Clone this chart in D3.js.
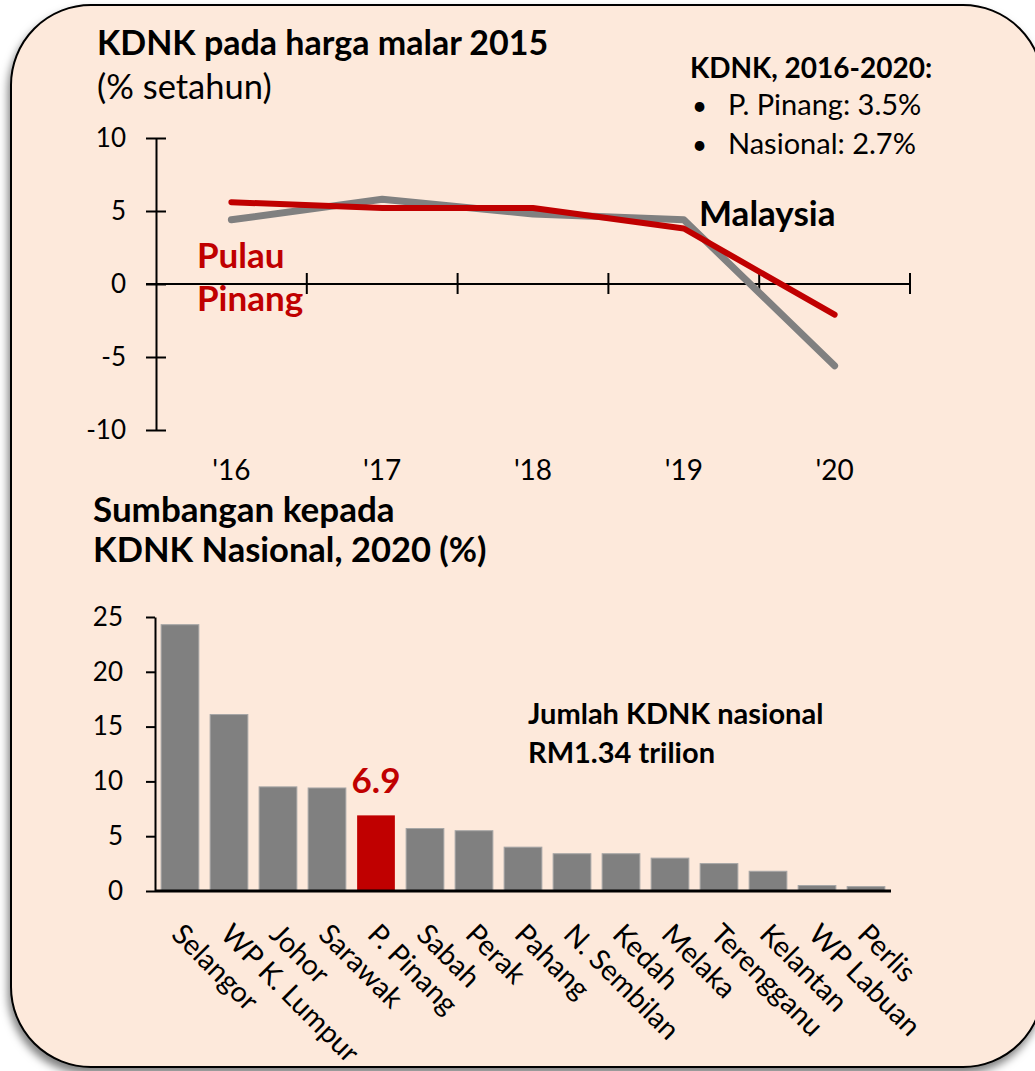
<!DOCTYPE html>
<meta charset="utf-8">
<style>
body { margin: 0; background: #fff; }
text { font-family: Lato, "Open Sans", sans-serif; fill: #000; }
.axis path, .axis line { stroke: #000; stroke-width: 2px; }
.axis text { font-size: 26px; fill: #000; }
</style>
<svg width="1035" height="1071"></svg>
<script src="https://d3js.org/d3.v7.min.js"></script>
<script>
// top chart: annual GDP growth
var years = ["'16", "'17", "'18", "'19", "'20"];
var penang = [5.6, 5.2, 5.2, 3.8, -2.1];
var malaysia = [4.4, 5.8, 4.8, 4.4, -5.6];
var growthTicks = [-10, -5, 0, 5, 10];

// bottom chart: share of national GDP 2020
var states = ["Selangor", "WP K. Lumpur", "Johor", "Sarawak", "P. Pinang", "Sabah", "Perak",
  "Pahang", "N. Sembilan", "Kedah", "Melaka", "Terengganu", "Kelantan", "WP Labuan", "Perlis"];
var shares = [24.3, 16.1, 9.5, 9.4, 6.9, 5.7, 5.5, 4.0, 3.4, 3.4, 3.0, 2.5, 1.8, 0.5, 0.4];
var shareTicks = [0, 5, 10, 15, 20, 25];

var red = "#C00000", grey = "#808080";

var svg = d3.select("svg");

// panel background with shadow
var defs = svg.append("defs");
defs.append("filter").attr("id", "shadow")
    .attr("x", "-5%").attr("y", "-5%").attr("width", "110%").attr("height", "110%")
  .append("feDropShadow")
    .attr("dx", -2).attr("dy", 6).attr("stdDeviation", 4)
    .attr("flood-color", "#000").attr("flood-opacity", 0.5);

svg.append("rect")
    .attr("x", 11).attr("y", 5).attr("width", 1032).attr("height", 1062)
    .attr("rx", 80).attr("ry", 80)
    .attr("fill", "#FDE9DB")
    .attr("stroke", "#000").attr("stroke-width", 2)
    .attr("filter", "url(#shadow)");

// ---------- top chart ----------
var x1 = d3.scaleBand().domain(years).range([156, 910]);
var y1 = d3.scaleLinear().domain([-10, 10]).range([430, 138]);

svg.append("text").attr("x", 97).attr("y", 55)
    .style("font-size", "34px").style("font-weight", "bold")
    .text("KDNK pada harga malar 2015");
svg.append("text").attr("x", 97).attr("y", 99)
    .style("font-size", "34.5px")
    .text("(% setahun)");

var yAxis1 = svg.append("g")
    .attr("class", "axis")
    .attr("transform", "translate(" + x1.range()[0] + ",0)")
    .call(d3.axisLeft(y1).tickValues(growthTicks).tickFormat(function(d) { return String(d); })
      .tickSize(10).tickSizeOuter(0).tickPadding(20));
yAxis1.selectAll(".tick line").attr("x1", 10);

// horizontal zero line with ticks at category boundaries
var xAxis1 = svg.append("g").attr("class", "axis");
xAxis1.append("line")
    .attr("x1", x1.range()[0] - 10).attr("x2", x1.range()[1])
    .attr("y1", y1(0)).attr("y2", y1(0));
xAxis1.selectAll(".bnd")
    .data(years)
  .enter().append("line")
    .attr("x1", function(d) { return x1(d) + x1.bandwidth(); })
    .attr("x2", function(d) { return x1(d) + x1.bandwidth(); })
    .attr("y1", y1(0) - 11).attr("y2", y1(0) + 10);

svg.selectAll(".yr")
    .data(years)
  .enter().append("text")
    .attr("x", function(d) { return x1(d) + x1.bandwidth() / 2; })
    .attr("y", 480)
    .attr("text-anchor", "middle")
    .style("font-size", "28px")
    .text(function(d) { return d; });

var line = d3.line()
    .x(function(d, i) { return x1(years[i]) + x1.bandwidth() / 2; })
    .y(function(d) { return y1(d); });

svg.append("path").datum(malaysia)
    .attr("d", line)
    .attr("fill", "none").attr("stroke", grey).attr("stroke-width", 7)
    .attr("stroke-linejoin", "round").attr("stroke-linecap", "round");
svg.append("path").datum(penang)
    .attr("d", line)
    .attr("fill", "none").attr("stroke", red).attr("stroke-width", 6)
    .attr("stroke-linejoin", "round").attr("stroke-linecap", "round");

svg.append("text").attr("x", 699).attr("y", 226)
    .style("font-size", "35px").style("font-weight", "bold")
    .text("Malaysia");
svg.append("text").attr("x", 197).attr("y", 268)
    .style("font-size", "35px").style("font-weight", "bold").style("fill", red)
    .text("Pulau");
svg.append("text").attr("x", 197).attr("y", 311)
    .style("font-size", "35px").style("font-weight", "bold").style("fill", red)
    .text("Pinang");

// inset note
svg.append("text").attr("x", 690).attr("y", 78)
    .style("font-size", "28px").style("font-weight", "bold")
    .text("KDNK, 2016-2020:");
var notes = ["P. Pinang: 3.5%", "Nasional: 2.7%"];
notes.forEach(function(t, i) {
  svg.append("text").attr("x", 692).attr("y", 115 + i * 39)
      .style("font-size", "26px").text("\u2022");
  svg.append("text").attr("x", 728).attr("y", 115 + i * 39)
      .style("font-size", "29px").text(t);
});

// ---------- bottom chart ----------
var x2 = d3.scaleBand().domain(states).range([155, 891]).paddingInner(0.23).paddingOuter(0.125);
var y2 = d3.scaleLinear().domain([0, 25]).range([891, 617]);

svg.append("text").attr("x", 93).attr("y", 522)
    .style("font-size", "35px").style("font-weight", "bold")
    .text("Sumbangan kepada");
svg.append("text").attr("x", 93).attr("y", 562)
    .style("font-size", "34.5px").style("font-weight", "bold")
    .text("KDNK Nasional, 2020 (%)");

svg.selectAll(".bar")
    .data(shares)
  .enter().append("rect")
    .attr("x", function(d, i) { return x2(states[i]); })
    .attr("y", function(d) { return y2(d); })
    .attr("width", x2.bandwidth())
    .attr("height", function(d) { return y2(0) - y2(d); })
    .attr("fill", function(d, i) { return states[i] == "P. Pinang" ? red : grey; })
    .attr("stroke", function(d, i) { return states[i] == "P. Pinang" ? "none" : "#a6a6a6"; })
    .attr("stroke-width", 1);

svg.append("g")
    .attr("class", "axis")
    .attr("transform", "translate(" + x2.range()[0] + ",0)")
    .call(d3.axisLeft(y2).tickValues(shareTicks).tickSize(9).tickSizeOuter(0).tickPadding(23));

svg.append("line")
    .attr("x1", x2.range()[0]).attr("x2", x2.range()[1])
    .attr("y1", y2(0)).attr("y2", y2(0))
    .attr("stroke", "#000").attr("stroke-width", 3);

svg.selectAll(".state")
    .data(states)
  .enter().append("text")
    .attr("transform", function(d) {
      return "translate(" + (x2(d) + x2.bandwidth() / 2 - 10) + ",936) rotate(45)";
    })
    .style("font-size", "28.5px")
    .text(function(d) { return d; });

var pi = states.indexOf("P. Pinang");
svg.append("text")
    .attr("x", x2(states[pi]) + x2.bandwidth() / 2)
    .attr("y", y2(shares[pi]) - 22)
    .attr("text-anchor", "middle")
    .style("font-size", "35px").style("font-weight", "bold").style("fill", red)
    .text(shares[pi].toFixed(1));

svg.append("text").attr("x", 528).attr("y", 724)
    .style("font-size", "29px").style("font-weight", "bold")
    .text("Jumlah KDNK nasional");
svg.append("text").attr("x", 528).attr("y", 763)
    .style("font-size", "29px").style("font-weight", "bold")
    .text("RM1.34 trilion");
</script>
